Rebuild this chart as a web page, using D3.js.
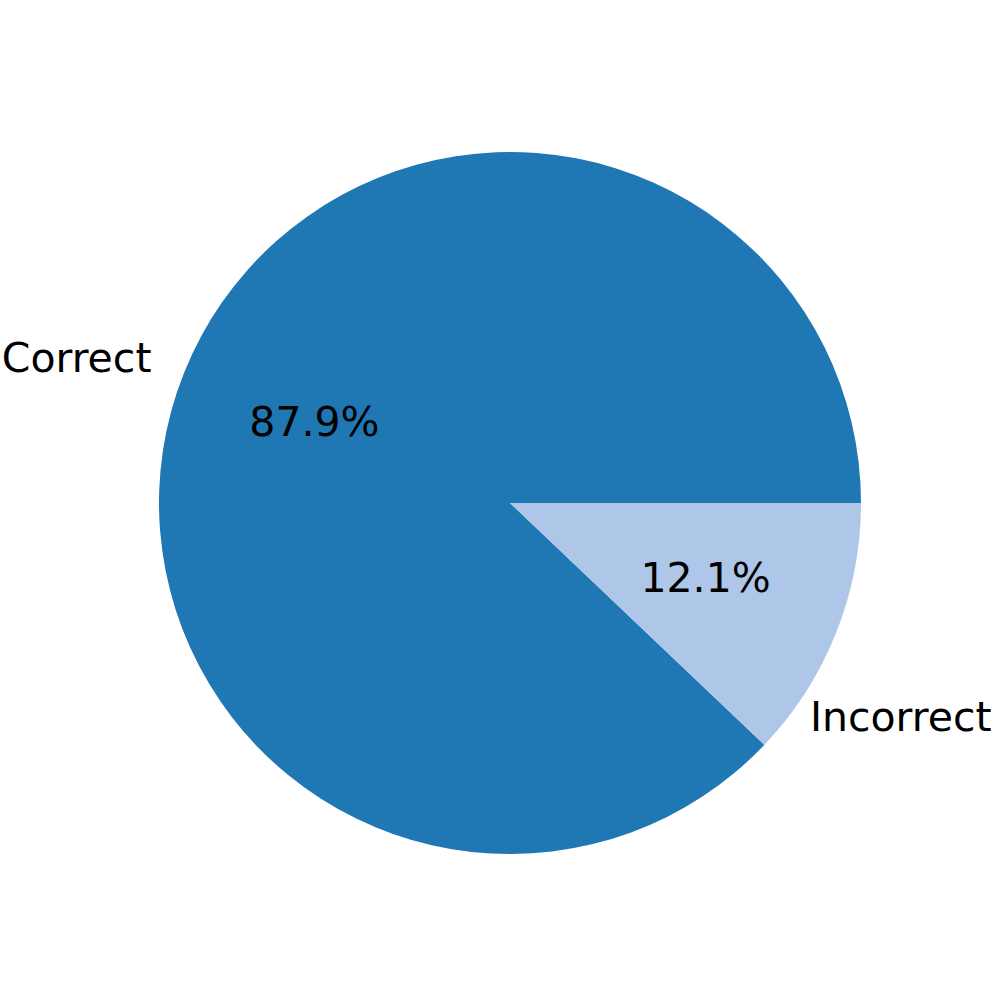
<!DOCTYPE html>
<html>
<head>
<meta charset="utf-8">
<script src="https://cdn.jsdelivr.net/npm/d3@7"></script>
<style>
  html, body { margin: 0; padding: 0; background: #fff; }
  svg { display: block; }
  text { font-family: "DejaVu Sans", sans-serif; fill: #000; }
</style>
</head>
<body>
<svg id="chart" width="997" height="997"></svg>
<script>
const categories = ["Correct", "Incorrect"];
const values = [87.9, 12.1];
const colors = ["#1f77b4", "#aec7e8"];

const W = 997, H = 997;
const cx = 510, cy = 503, R = 351;
const fontSize = 41;

const svg = d3.select("#chart");
const g = svg.append("g").attr("transform", `translate(${cx},${cy})`);

const data = categories.map((c, i) => ({ label: c, value: values[i], color: colors[i] }));

// matplotlib style: start at 3 o'clock, go counter-clockwise
const pie = d3.pie().value(d => d.value).sort(null)
  .startAngle(Math.PI / 2).endAngle(Math.PI / 2 - 2 * Math.PI);
const arcs = pie(data);
const arc = d3.arc().innerRadius(0).outerRadius(R);

g.selectAll("path.slice").data(arcs).enter().append("path")
  .attr("class", "slice")
  .attr("d", arc)
  .attr("fill", d => d.data.color);

function pos(angle, dist) {
  return [dist * Math.sin(angle), -dist * Math.cos(angle)];
}

// percentage labels at 0.6 R
g.selectAll("text.pct").data(arcs).enter().append("text")
  .attr("class", "pct")
  .attr("x", d => pos((d.startAngle + d.endAngle) / 2, 0.6 * R)[0])
  .attr("y", d => pos((d.startAngle + d.endAngle) / 2, 0.6 * R)[1])
  .attr("dy", "0.27em")
  .attr("text-anchor", "middle")
  .attr("font-size", fontSize)
  .text(d => d3.format(".1f")(d.data.value) + "%");

// category labels
const labelPlacement = [
  { dist: 1.1, angleOffset: 0, anchor: "end" },
  { dist: 1.053, angleOffset: 0.244, anchor: "start" }
];
g.selectAll("text.lbl").data(arcs).enter().append("text")
  .attr("class", "lbl")
  .each(function (d, i) {
    const p = labelPlacement[i];
    const a = (d.startAngle + d.endAngle) / 2 + p.angleOffset;
    const [x, y] = pos(a, p.dist * R);
    d3.select(this).attr("x", x).attr("y", y).attr("text-anchor", p.anchor);
  })
  .attr("dy", "0.3em")
  .attr("font-size", fontSize)
  .text(d => d.data.label);
</script>
</body>
</html>
